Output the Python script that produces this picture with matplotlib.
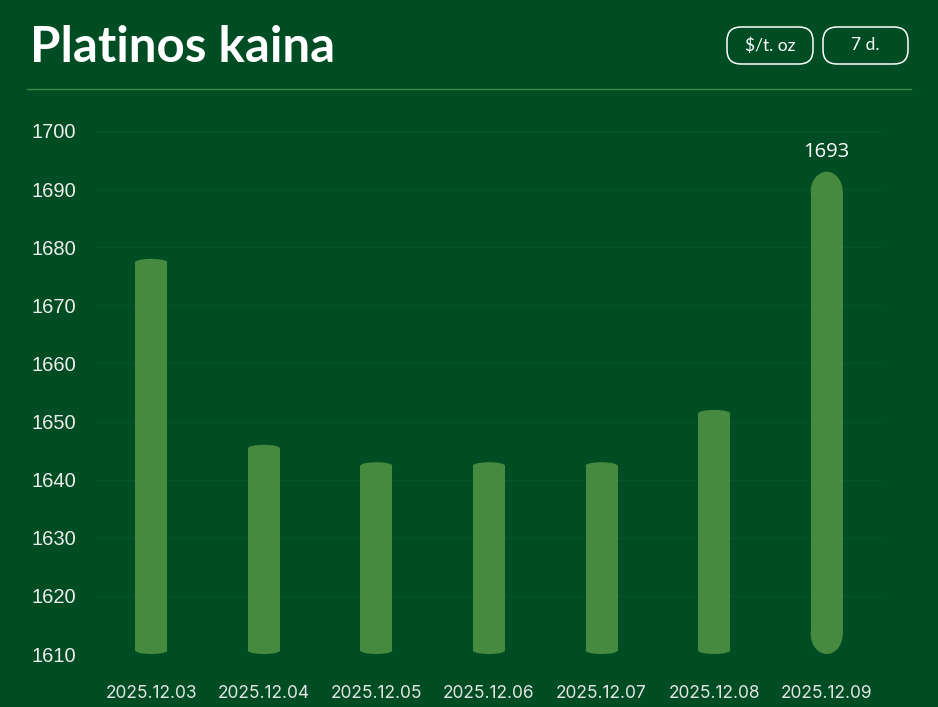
import matplotlib.pyplot as plt
from matplotlib.patches import Rectangle, Ellipse, FancyBboxPatch
from matplotlib.lines import Line2D

# data
dates = ["2025.12.03", "2025.12.04", "2025.12.05", "2025.12.06",
         "2025.12.07", "2025.12.08", "2025.12.09"]
prices = [1678, 1646, 1643, 1643, 1643, 1652, 1693]
y_ticks = [1610, 1620, 1630, 1640, 1650, 1660, 1670, 1680, 1690, 1700]
title = "Platinos kaina"
buttons = ["$/t. oz", "7 d."]

bg = "#004d24"
bar_color = "#468a3f"
W, H = 938, 707

fig = plt.figure(figsize=(W / 100, H / 100), dpi=100)
fig.patch.set_facecolor(bg)

# axes in pixel layout: x 95..883, y 131..654
ax = fig.add_axes([95 / W, 1 - 654 / H, 788 / W, 523 / H])
ax.set_facecolor(bg)
ax.set_xlim(-0.5, len(dates) - 0.5)
ax.set_ylim(1610, 1700)
for s in ax.spines.values():
    s.set_visible(False)

ax.set_yticks(y_ticks)
ax.set_yticklabels([str(t) for t in y_ticks], fontsize=14.5, color="#eeeeee",
                   fontfamily="Liberation Sans")
ax.tick_params(axis="y", length=0, pad=13.5)
ax.set_xticks(range(len(dates)))
ax.set_xticklabels(dates, fontsize=12.5, color="#e4e4e4", fontfamily="Inter")
ax.tick_params(axis="x", length=0, pad=22)
ax.grid(axis="y", color="#07532a", linewidth=1)
ax.set_axisbelow(True)

# bars with elliptical caps
bar_w = 0.284
px_per_unit = 523 / 90
top_i = prices.index(max(prices))
base = 1610
for i, v in enumerate(prices):
    cap = (20 if i == top_i else 3.5) / px_per_unit  # cap half-height in data units
    ax.add_patch(Rectangle((i - bar_w / 2, base + cap), bar_w, v - base - 2 * cap,
                           facecolor=bar_color, edgecolor="none", zorder=3))
    ax.add_patch(Ellipse((i, v - cap), bar_w, 2 * cap, facecolor=bar_color,
                         edgecolor="none", zorder=3))
    ax.add_patch(Ellipse((i, base + cap), bar_w, 2 * cap, facecolor=bar_color,
                         edgecolor="none", zorder=3))

ax.annotate(str(prices[top_i]), (top_i, prices[top_i]), xytext=(0, 7),
            textcoords="offset points", ha="center", va="bottom",
            fontsize=14.5, color="white", fontfamily="Open Sans")

# header
fig.text(30 / W, 1 - 62 / H, title, fontsize=35.5, fontweight="bold", color="white",
         fontfamily="Lato", va="baseline", ha="left")

tr = fig.dpi_scale_trans
boxes = [(727, 813), (823, 908)]
for (x0, x1), label in zip(boxes, buttons):
    y0, y1 = 27, 64
    fig.add_artist(FancyBboxPatch((x0 / 100, (H - y1) / 100), (x1 - x0) / 100, (y1 - y0) / 100,
                                  boxstyle="round,pad=0,rounding_size=0.14",
                                  facecolor="none", edgecolor="white", linewidth=1.1,
                                  transform=tr))
    fig.text((x0 + x1) / 2 / W, 1 - (y0 + y1) / 2 / H, label, ha="center", va="center",
             fontsize=12.5, color="white", fontfamily="Lato")

fig.add_artist(Line2D([27 / W, 911 / W], [1 - 89 / H, 1 - 89 / H], color="#3f8a44",
                      linewidth=1, transform=fig.transFigure))

fig.savefig("out.png", dpi=100, facecolor=bg)
